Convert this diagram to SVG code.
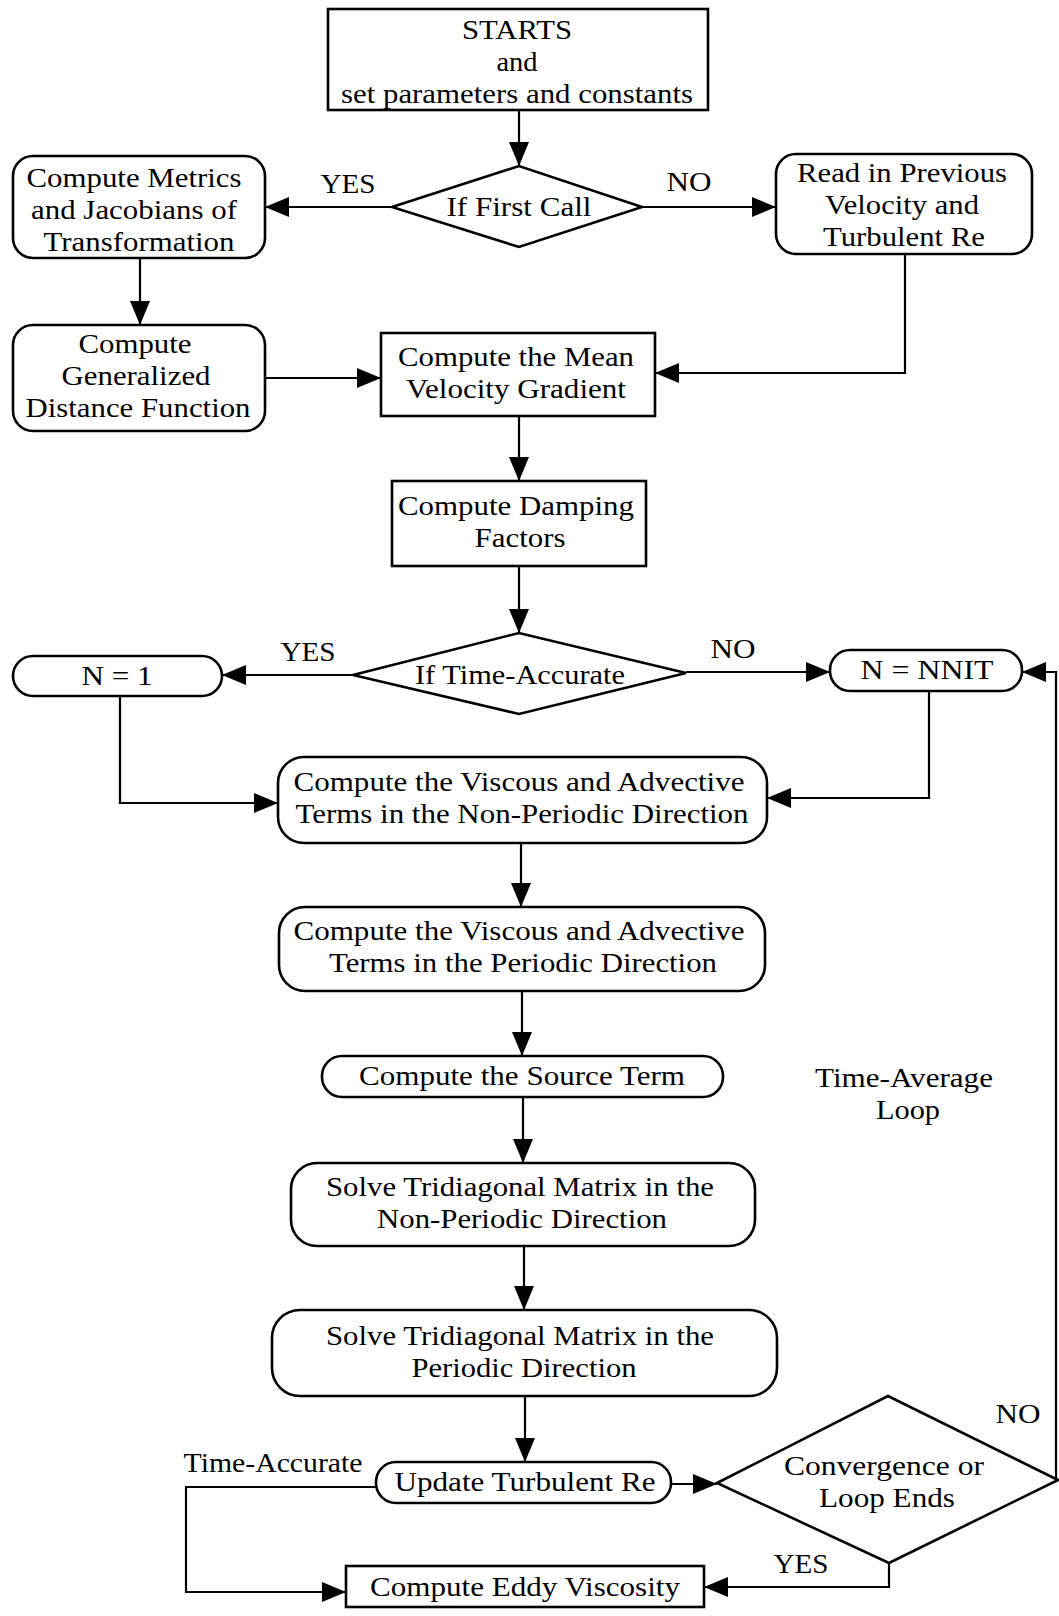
<svg xmlns="http://www.w3.org/2000/svg" width="1059" height="1616" viewBox="0 0 1059 1616">
<style>
.n{fill:#fff;stroke:#000;stroke-width:2.6}
.t{font-family:"Liberation Serif","Times New Roman",serif;font-size:28px;fill:#000;text-anchor:middle}
.l{font-family:"Liberation Serif","Times New Roman",serif;font-size:28px;fill:#000;text-anchor:middle}
.c{fill:none;stroke:#000;stroke-width:2.2}
</style>
<defs>
<marker id="ah" markerUnits="userSpaceOnUse" markerWidth="24" markerHeight="20" refX="24" refY="10" orient="auto">
<path d="M0,0 L24,10 L0,20 z" fill="#000"/>
</marker>
</defs>
<rect width="1059" height="1616" fill="#fff"/>

<g id="connectors">
<path class="c" d="M519,110 V166" marker-end="url(#ah)"/>
<path class="c" d="M392,207 H265" marker-end="url(#ah)"/>
<path class="c" d="M642,207 H776" marker-end="url(#ah)"/>
<path class="c" d="M140,258 V325" marker-end="url(#ah)"/>
<path class="c" d="M265,378 H381" marker-end="url(#ah)"/>
<path class="c" d="M905,254 V373 H655" marker-end="url(#ah)"/>
<path class="c" d="M519,416 V481" marker-end="url(#ah)"/>
<path class="c" d="M519,566 V633" marker-end="url(#ah)"/>
<path class="c" d="M353,675 H222" marker-end="url(#ah)"/>
<path class="c" d="M686,672 H830" marker-end="url(#ah)"/>
<path class="c" d="M120,696 V803 H278" marker-end="url(#ah)"/>
<path class="c" d="M929,691 V798 H767" marker-end="url(#ah)"/>
<path class="c" d="M521,843 V907" marker-end="url(#ah)"/>
<path class="c" d="M522,991 V1056" marker-end="url(#ah)"/>
<path class="c" d="M523,1097 V1163" marker-end="url(#ah)"/>
<path class="c" d="M524,1246 V1310" marker-end="url(#ah)"/>
<path class="c" d="M525,1396 V1462" marker-end="url(#ah)"/>
<path class="c" d="M671,1484 H717" marker-end="url(#ah)"/>
<path class="c" d="M889,1563 V1587 H704" marker-end="url(#ah)"/>
<path class="c" d="M376,1487 H186 V1592 H346" marker-end="url(#ah)"/>
<path class="c" d="M1056,1480 V672 H1022" marker-end="url(#ah)"/>
<text class="l" x="348" y="193" textLength="55" lengthAdjust="spacingAndGlyphs">YES</text>
<text class="l" x="689" y="191" textLength="45" lengthAdjust="spacingAndGlyphs">NO</text>
<text class="l" x="308" y="661" textLength="55" lengthAdjust="spacingAndGlyphs">YES</text>
<text class="l" x="733" y="658" textLength="45" lengthAdjust="spacingAndGlyphs">NO</text>
<text class="l" x="1018" y="1423" textLength="45" lengthAdjust="spacingAndGlyphs">NO</text>
<text class="l" x="801" y="1573" textLength="55" lengthAdjust="spacingAndGlyphs">YES</text>
<text class="l" x="273" y="1472" textLength="179" lengthAdjust="spacingAndGlyphs">Time-Accurate</text>
</g>

<g id="start">
<rect class="n" x="328" y="9" width="380" height="101"/>
<text class="t" x="517" y="39" textLength="110" lengthAdjust="spacingAndGlyphs">STARTS</text>
<text class="t" x="517" y="71" textLength="41" lengthAdjust="spacingAndGlyphs">and</text>
<text class="t" x="517" y="103" textLength="352" lengthAdjust="spacingAndGlyphs">set parameters and constants</text>
</g>

<g id="first-call">
<polygon class="n" points="392,207 519,166 642,207 519,247"/>
<text class="t" x="519" y="216" textLength="145" lengthAdjust="spacingAndGlyphs">If First Call</text>
</g>

<g id="metrics">
<rect class="n" x="13" y="156" width="252" height="102" rx="20"/>
<text class="t" x="134" y="187" textLength="215" lengthAdjust="spacingAndGlyphs">Compute Metrics</text>
<text class="t" x="134" y="219" textLength="206" lengthAdjust="spacingAndGlyphs">and Jacobians of</text>
<text class="t" x="139" y="251" textLength="191" lengthAdjust="spacingAndGlyphs">Transformation</text>
</g>

<g id="read">
<rect class="n" x="776" y="154" width="256" height="100" rx="20"/>
<text class="t" x="902" y="182" textLength="210" lengthAdjust="spacingAndGlyphs">Read in Previous</text>
<text class="t" x="902" y="214" textLength="154" lengthAdjust="spacingAndGlyphs">Velocity and</text>
<text class="t" x="904" y="246" textLength="162" lengthAdjust="spacingAndGlyphs">Turbulent Re</text>
</g>

<g id="distance">
<rect class="n" x="13" y="325" width="252" height="106" rx="20"/>
<text class="t" x="135" y="353" textLength="113" lengthAdjust="spacingAndGlyphs">Compute</text>
<text class="t" x="136" y="385" textLength="149" lengthAdjust="spacingAndGlyphs">Generalized</text>
<text class="t" x="138" y="417" textLength="225" lengthAdjust="spacingAndGlyphs">Distance Function</text>
</g>

<g id="mean">
<rect class="n" x="381" y="333" width="274" height="83"/>
<text class="t" x="516" y="366" textLength="236" lengthAdjust="spacingAndGlyphs">Compute the Mean</text>
<text class="t" x="516" y="398" textLength="220" lengthAdjust="spacingAndGlyphs">Velocity Gradient</text>
</g>

<g id="damping">
<rect class="n" x="392" y="481" width="254" height="85"/>
<text class="t" x="516" y="515" textLength="236" lengthAdjust="spacingAndGlyphs">Compute Damping</text>
<text class="t" x="520" y="547" textLength="91" lengthAdjust="spacingAndGlyphs">Factors</text>
</g>

<g id="time-accurate">
<polygon class="n" points="353,675 519,633 686,673 519,714"/>
<text class="t" x="520" y="684" textLength="210" lengthAdjust="spacingAndGlyphs">If Time-Accurate</text>
</g>

<g id="n1">
<rect class="n" x="13" y="656" width="209" height="40" rx="20"/>
<text class="t" x="117" y="685" textLength="71" lengthAdjust="spacingAndGlyphs">N = 1</text>
</g>

<g id="nnit">
<rect class="n" x="830" y="650" width="192" height="41" rx="20"/>
<text class="t" x="927" y="679" textLength="133" lengthAdjust="spacingAndGlyphs">N = NNIT</text>
</g>

<g id="visc-nonperiodic">
<rect class="n" x="278" y="757" width="489" height="86" rx="26"/>
<text class="t" x="519" y="791" textLength="451" lengthAdjust="spacingAndGlyphs">Compute the Viscous and Advective</text>
<text class="t" x="522" y="823" textLength="453" lengthAdjust="spacingAndGlyphs">Terms in the Non-Periodic Direction</text>
</g>

<g id="visc-periodic">
<rect class="n" x="279" y="907" width="486" height="84" rx="26"/>
<text class="t" x="519" y="940" textLength="451" lengthAdjust="spacingAndGlyphs">Compute the Viscous and Advective</text>
<text class="t" x="523" y="972" textLength="388" lengthAdjust="spacingAndGlyphs">Terms in the Periodic Direction</text>
</g>

<g id="source">
<rect class="n" x="322" y="1056" width="401" height="41" rx="20"/>
<text class="t" x="522" y="1085" textLength="326" lengthAdjust="spacingAndGlyphs">Compute the Source Term</text>
</g>

<g id="loop-label">
<text class="l" x="904" y="1087" textLength="178" lengthAdjust="spacingAndGlyphs">Time-Average</text>
<text class="l" x="908" y="1119" textLength="64" lengthAdjust="spacingAndGlyphs">Loop</text>
</g>

<g id="solve-nonperiodic">
<rect class="n" x="291" y="1163" width="464" height="83" rx="26"/>
<text class="t" x="520" y="1196" textLength="388" lengthAdjust="spacingAndGlyphs">Solve Tridiagonal Matrix in the</text>
<text class="t" x="522" y="1228" textLength="290" lengthAdjust="spacingAndGlyphs">Non-Periodic Direction</text>
</g>

<g id="solve-periodic">
<rect class="n" x="272" y="1310" width="505" height="86" rx="28"/>
<text class="t" x="520" y="1345" textLength="388" lengthAdjust="spacingAndGlyphs">Solve Tridiagonal Matrix in the</text>
<text class="t" x="524" y="1377" textLength="225" lengthAdjust="spacingAndGlyphs">Periodic Direction</text>
</g>

<g id="update">
<rect class="n" x="376" y="1462" width="295" height="41" rx="20"/>
<text class="t" x="525" y="1491" textLength="261" lengthAdjust="spacingAndGlyphs">Update Turbulent Re</text>
</g>

<g id="convergence">
<polygon class="n" points="717,1483 888,1396 1058,1480 889,1563"/>
<text class="t" x="884" y="1475" textLength="200" lengthAdjust="spacingAndGlyphs">Convergence or</text>
<text class="t" x="887" y="1507" textLength="136" lengthAdjust="spacingAndGlyphs">Loop Ends</text>
</g>

<g id="eddy">
<rect class="n" x="346" y="1566" width="358" height="41"/>
<text class="t" x="525" y="1596" textLength="310" lengthAdjust="spacingAndGlyphs">Compute Eddy Viscosity</text>
</g>
</svg>
